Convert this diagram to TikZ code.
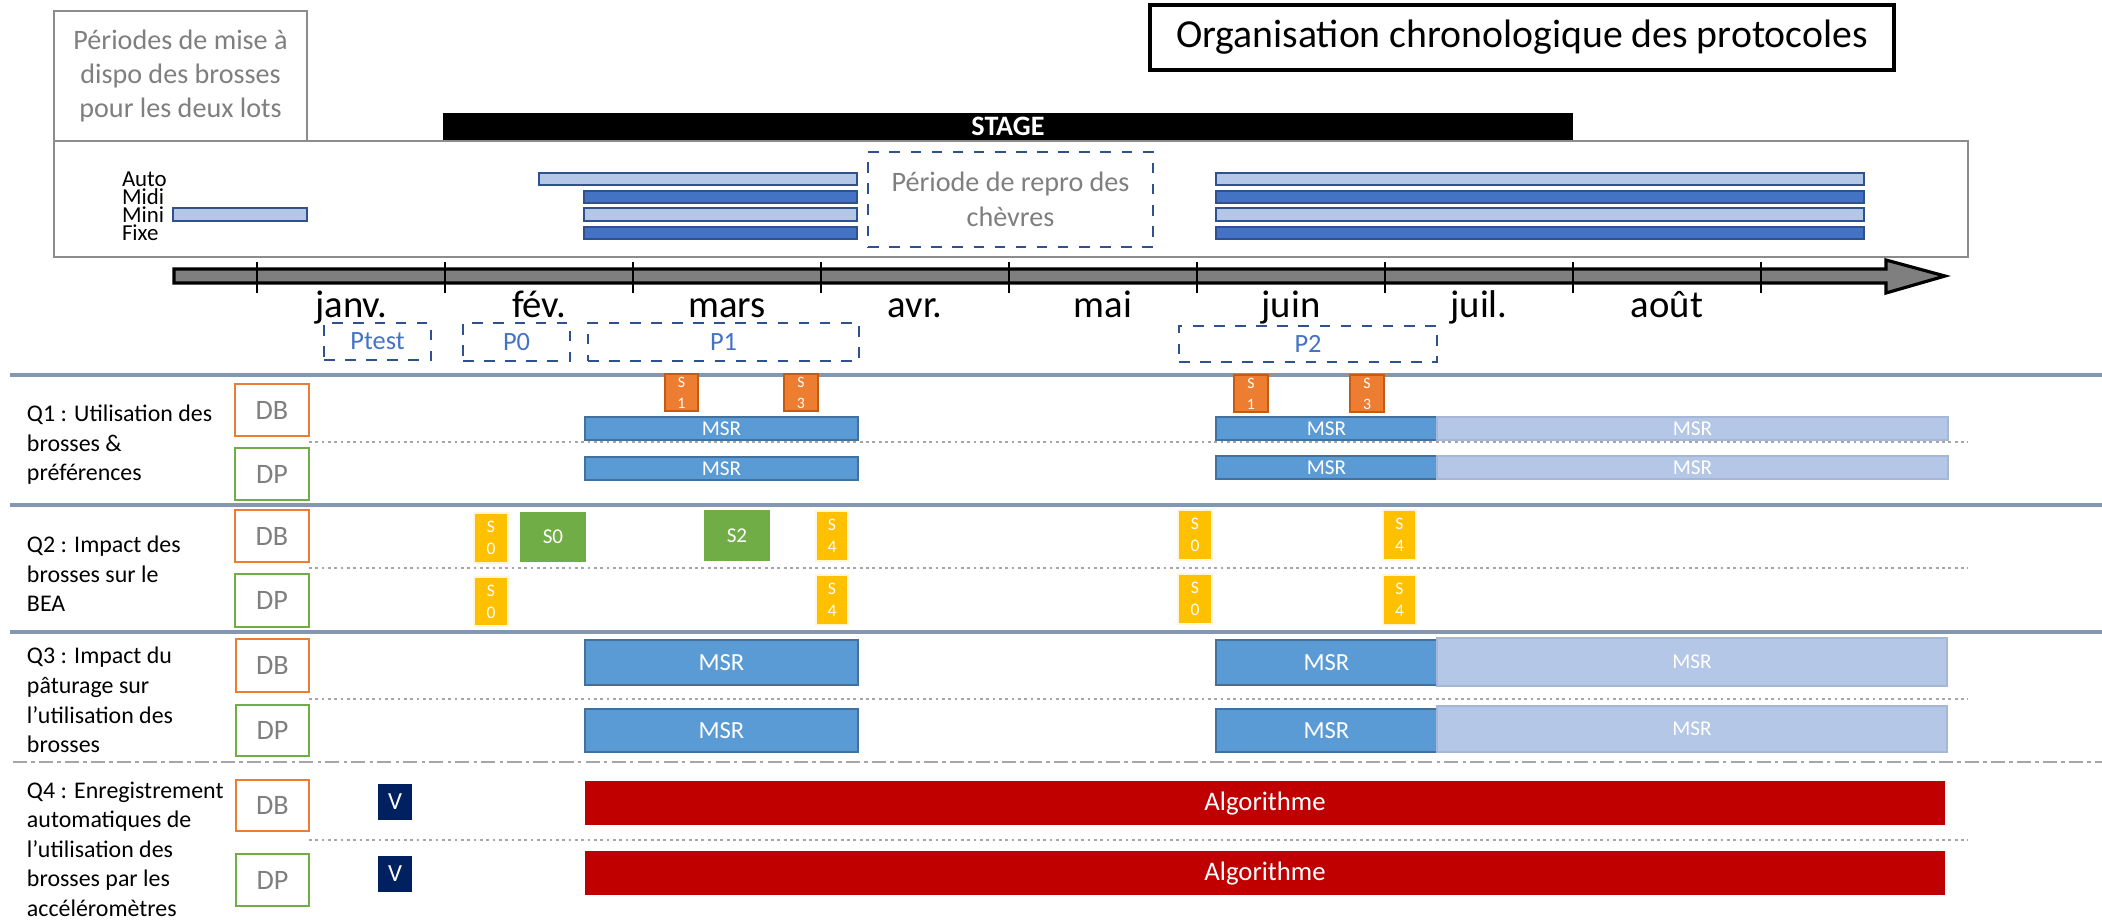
\documentclass[tikz,border=0pt]{standalone}
\usepackage{fontspec}
\setmainfont{Carlito}
\usepackage{tikz}

\definecolor{frameGray}{HTML}{8C8C8C}
\definecolor{textGray}{HTML}{7F7F7F}
\definecolor{axisGray}{HTML}{7F7F7F}
\definecolor{darkBlue}{HTML}{2F528F}
\definecolor{midBlue}{HTML}{4472C4}
\definecolor{lightBlue}{HTML}{B4C7E7}
\definecolor{msrBlue}{HTML}{5B9BD5}
\definecolor{msrEdge}{HTML}{41719C}
\definecolor{msrLightEdge}{HTML}{A5B6D6}
\definecolor{sepBlue}{HTML}{8497B0}
\definecolor{dotGray}{HTML}{A6A6A6}
\definecolor{sOrange}{HTML}{ED7D31}
\definecolor{sOrangeEdge}{HTML}{C55A11}
\definecolor{sYellow}{HTML}{FFC000}
\definecolor{sGreen}{HTML}{70AD47}
\definecolor{vNavy}{HTML}{002060}
\definecolor{algoRed}{HTML}{C00000}

\newcommand{\Fnt}[2]{\fontsize{#1}{#2}\selectfont}
\newcommand{\Blk}[7]{\node[#2, minimum width={(#5-#3)*0.01cm}, minimum height={(#6-#4)*0.01cm}] (#1) at ({(#3+#5)/2},{(#4+#6)/2}) {#7};}

\begin{document}
\begin{tikzpicture}[x=0.01cm, y=-0.01cm,
    every node/.style={inner sep=0pt, outer sep=0pt},
    frame/.style={draw=frameGray, line width=0.8pt, fill=white},
    barL/.style={draw=darkBlue, fill=lightBlue, line width=0.6pt},
    barD/.style={draw=darkBlue, fill=midBlue, line width=0.6pt},
    perbox/.style={draw=darkBlue, dashed, line width=0.8pt},
    period/.style={perbox, text=midBlue, font=\Fnt{7.5}{9}},
    month/.style={anchor=base, font=\Fnt{11}{13}},
    lbl/.style={anchor=west, font=\Fnt{6.5}{6.5}},
    quest/.style={anchor=west, align=left, font=\Fnt{6.8}{8.4}},
    sepline/.style={draw=sepBlue, line width=0.9pt},
    subline/.style={draw=dotGray, densely dotted, line width=0.8pt},
    dbbox/.style={draw=sOrange, line width=0.7pt, text=textGray, font=\Fnt{8}{9}},
    dpbox/.style={draw=sGreen, line width=0.7pt, text=textGray, font=\Fnt{8}{9}},
    msrD/.style={draw=msrEdge, fill=msrBlue, line width=0.7pt, text=white, font=\Fnt{6}{7}},
    msrL/.style={draw=msrLightEdge, fill=lightBlue, line width=0.5pt, text=white, font=\Fnt{6}{7}},
    sOr/.style={draw=sOrangeEdge, fill=sOrange, line width=0.6pt, text=white, align=center, font=\Fnt{4.5}{6}},
    sYe/.style={draw=white!85!sYellow, fill=sYellow, line width=0.5pt, text=white, align=center, font=\Fnt{5}{6.2}},
    sGr/.style={fill=sGreen, text=white, font=\Fnt{6}{7}},
    vbox/.style={fill=vNavy, text=white, font=\Fnt{7}{8}},
    algo/.style={fill=algoRed, text=white, font=\Fnt{7.6}{9}}]

    \useasboundingbox (0,0) rectangle (2102,923);

    \Blk{lots}{frame}{54}{141}{1968}{257}{}
    \Blk{dispo}{frame, text=textGray, align=center, font=\Fnt{8}{9.7}}{54}{11}{307}{141}{Périodes de mise à\\dispo des brosses\\pour les deux lots}
    \Blk{stage}{fill=black, text=white, font=\Fnt{8}{9}\bfseries}{443}{113}{1573}{140}{STAGE}
    \Blk{titre}{draw=black, line width=1pt, font=\Fnt{11.3}{13}}{1150}{5}{1894}{70}{Organisation chronologique des protocoles}

    \draw(122,179) node[lbl] (auto) {Auto};
    \draw(122,197) node[lbl] (midi) {Midi};
    \draw(122,215) node[lbl] (mini) {Mini};
    \draw(122,233) node[lbl] (fixe) {Fixe};
    \Blk{autoA}{barL}{539}{173}{857}{185}{}
    \Blk{autoB}{barL}{1216}{173}{1864}{185}{}
    \Blk{midiA}{barD}{584}{191}{857}{203}{}
    \Blk{midiB}{barD}{1216}{191}{1864}{203}{}
    \Blk{miniA}{barL}{173}{208}{307}{221}{}
    \Blk{miniB}{barL}{584}{208}{857}{221}{}
    \Blk{miniC}{barL}{1216}{208}{1864}{221}{}
    \Blk{fixeA}{barD}{584}{227}{857}{239}{}
    \Blk{fixeB}{barD}{1216}{227}{1864}{239}{}
    \Blk{repro}{perbox, text=textGray, align=center, font=\Fnt{8}{10}}{868}{152}{1153}{247}{Période de repro des\\chèvres}

    \draw[line width=0.9pt, fill=axisGray] (174,269) -- (1886,269) -- (1886,260) -- (1945,276) -- (1886,293) -- (1886,283) -- (174,283) -- cycle;
    \draw[line width=0.4pt] (257,262) -- (257,293) (445,262) -- (445,293) (633,262) -- (633,293)
        (821,262) -- (821,293) (1009,262) -- (1009,293) (1197,262) -- (1197,293)
        (1385,262) -- (1385,293) (1573,262) -- (1573,293) (1761,262) -- (1761,293);

    \draw(351,317) node[month] (janv) {janv.};
    \draw(539,317) node[month] (fev) {fév.};
    \draw(727,317) node[month] (mars) {mars};
    \draw(915,317) node[month] (avr) {avr.};
    \draw(1103,317) node[month] (mai) {mai};
    \draw(1291,317) node[month] (juin) {juin};
    \draw(1479,317) node[month] (juil) {juil.};
    \draw(1667,317) node[month] (aout) {août};

    \Blk{ptest}{period}{324}{323}{431}{360}{Ptest}
    \Blk{pzero}{period}{463}{323}{570}{361}{P0}
    \Blk{pun}{period}{588}{323}{859}{361}{P1}
    \Blk{pdeux}{period}{1179}{326}{1437}{362}{P2}

    \draw[sepline] (10,375) -- (2102,375);
    \draw[sepline] (10,505) -- (2102,505);
    \draw[sepline] (10,632) -- (2102,632);
    \draw[draw=dotGray, line width=0.8pt, dash pattern=on 4pt off 1.2pt on 1pt off 1.2pt] (13,762) -- (2102,762);
    \draw[subline] (309,442) -- (1968,442);
    \draw[subline] (309,568) -- (1968,568);
    \draw[subline] (309,699) -- (1968,699);
    \draw[subline] (309,840) -- (1968,840);

    \draw(27,445) node[quest] (qun) {Q1 : Utilisation des\\brosses \&\\préférences};
    \draw(27,574) node[quest] (qdeux) {Q2 : Impact des\\brosses sur le\\BEA};
    \draw(27,700) node[quest] (qtrois) {Q3 : Impact du\\pâturage sur\\l’utilisation des\\brosses};
    \draw(27,849) node[quest] (qquatre) {Q4 : Enregistrement\\automatiques de\\l’utilisation des\\brosses par les\\accéléromètres};

    \Blk{qunDB}{dbbox}{235}{384}{309}{436}{DB}
    \Blk{qunDP}{dpbox}{235}{448}{309}{500}{DP}
    \Blk{qdeuxDB}{dbbox}{235}{510}{309}{562}{DB}
    \Blk{qdeuxDP}{dpbox}{235}{574}{309}{627}{DP}
    \Blk{qtroisDB}{dbbox}{236}{639}{309}{692}{DB}
    \Blk{qtroisDP}{dpbox}{236}{705}{309}{756}{DP}
    \Blk{qquatreDB}{dbbox}{236}{780}{309}{831}{DB}
    \Blk{qquatreDP}{dpbox}{236}{854}{309}{906}{DP}

    \Blk{sunA}{sOr}{665}{374}{698}{411}{S\\1}
    \Blk{strA}{sOr}{784}{374}{818}{411}{S\\3}
    \Blk{sunB}{sOr}{1234}{375}{1268}{412}{S\\1}
    \Blk{strB}{sOr}{1350}{375}{1384}{412}{S\\3}
    \Blk{qunMa}{msrD}{585}{417}{858}{440}{MSR}
    \Blk{qunMb}{msrD}{1216}{417}{1437}{440}{MSR}
    \Blk{qunMc}{msrL}{1437}{417}{1948}{440}{MSR}
    \Blk{qunPa}{msrD}{585}{457}{858}{480}{MSR}
    \Blk{qunPb}{msrD}{1216}{456}{1437}{479}{MSR}
    \Blk{qunPc}{msrL}{1437}{456}{1948}{479}{MSR}

    \Blk{szA}{sYe}{474}{513}{508}{563}{S\\0}
    \Blk{gzA}{sGr}{520}{512}{586}{562}{S0}
    \Blk{gdA}{sGr}{704}{510}{770}{561}{S2}
    \Blk{sqA}{sYe}{816}{511}{848}{561}{S\\4}
    \Blk{szB}{sYe}{1178}{510}{1212}{560}{S\\0}
    \Blk{sqB}{sYe}{1383}{510}{1416}{560}{S\\4}
    \Blk{szC}{sYe}{474}{577}{508}{626}{S\\0}
    \Blk{sqC}{sYe}{816}{575}{848}{625}{S\\4}
    \Blk{szD}{sYe}{1178}{574}{1212}{624}{S\\0}
    \Blk{sqD}{sYe}{1383}{575}{1416}{625}{S\\4}

    \Blk{qtrMa}{msrD, font=\Fnt{7}{8}}{585}{640}{858}{685}{MSR}
    \Blk{qtrMb}{msrD, font=\Fnt{7}{8}}{1216}{640}{1437}{685}{MSR}
    \Blk{qtrMc}{msrL}{1437}{638}{1947}{686}{MSR}
    \Blk{qtrPa}{msrD, font=\Fnt{7}{8}}{585}{709}{858}{752}{MSR}
    \Blk{qtrPb}{msrD, font=\Fnt{7}{8}}{1216}{709}{1437}{752}{MSR}
    \Blk{qtrPc}{msrL}{1437}{706}{1947}{752}{MSR}

    \Blk{vA}{vbox}{378}{784}{412}{820}{V}
    \Blk{vB}{vbox}{378}{856}{412}{892}{V}
    \Blk{algoA}{algo}{585}{781}{1945}{825}{Algorithme}
    \Blk{algoB}{algo}{585}{851}{1945}{895}{Algorithme}

    \end{tikzpicture}
\end{document}
